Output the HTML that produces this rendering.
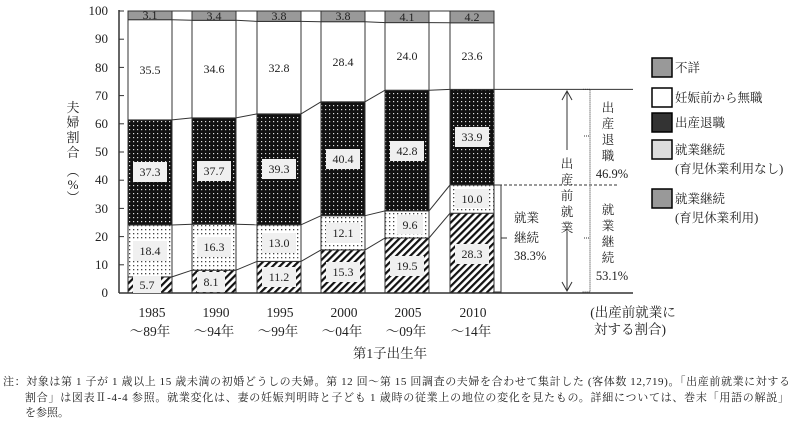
<!DOCTYPE html>
<html><head><meta charset="utf-8"><style>
body{margin:0;background:#fff}
svg{display:block;font-family:"Liberation Serif","Noto Serif CJK SC",serif}
.n{font-size:12px;text-anchor:middle;fill:#222}
.t{font-size:13px;fill:#222}
</style></head><body>
<svg width="799" height="426" viewBox="0 0 799 426">
<defs>
<pattern id="h" width="5" height="5" patternUnits="userSpaceOnUse" patternTransform="rotate(45)"><rect width="5" height="5" fill="#fff"/><rect width="2.2" height="5" fill="#111"/></pattern>
<pattern id="l" width="4" height="4" patternUnits="userSpaceOnUse"><rect width="4" height="4" fill="#fff"/><rect x="1" y="1" width="1.3" height="1.3" fill="#444"/></pattern>
<pattern id="d" width="4" height="4" patternUnits="userSpaceOnUse"><rect width="4" height="4" fill="#111"/><rect x="1" y="1" width="1.2" height="1.2" fill="#ddd"/></pattern>
</defs>
<g stroke="#333" stroke-width="1">
<g id="bars">
<rect x="128" y="276.9" width="44" height="16.1" fill="url(#h)"/><rect x="128" y="225" width="44" height="51.9" fill="url(#l)"/><rect x="128" y="119.9" width="44" height="105.1" fill="url(#d)"/><rect x="128" y="19.7" width="44" height="100.2" fill="#fff"/><rect x="128" y="11" width="44" height="8.7" fill="#999"/>
<rect x="192" y="270.2" width="44" height="22.8" fill="url(#h)"/><rect x="192" y="224.2" width="44" height="46" fill="url(#l)"/><rect x="192" y="117.9" width="44" height="106.3" fill="url(#d)"/><rect x="192" y="20.3" width="44" height="97.6" fill="#fff"/><rect x="192" y="11" width="44" height="9.3" fill="#999"/>
<rect x="257" y="261.4" width="44" height="31.6" fill="url(#h)"/><rect x="257" y="224.8" width="44" height="36.6" fill="url(#l)"/><rect x="257" y="113.9" width="44" height="110.9" fill="url(#d)"/><rect x="257" y="21.4" width="44" height="92.5" fill="#fff"/><rect x="257" y="11" width="44" height="10.4" fill="#999"/>
<rect x="321" y="249.9" width="44" height="43.1" fill="url(#h)"/><rect x="321" y="215.7" width="44" height="34.2" fill="url(#l)"/><rect x="321" y="101.8" width="44" height="113.9" fill="url(#d)"/><rect x="321" y="21.7" width="44" height="80.1" fill="#fff"/><rect x="321" y="11" width="44" height="10.7" fill="#999"/>
<rect x="385" y="238" width="44" height="55" fill="url(#h)"/><rect x="385" y="210.9" width="44" height="27.1" fill="url(#l)"/><rect x="385" y="90.2" width="44" height="120.7" fill="url(#d)"/><rect x="385" y="22.6" width="44" height="67.6" fill="#fff"/><rect x="385" y="11" width="44" height="11.6" fill="#999"/>
<rect x="450" y="213.2" width="44" height="79.8" fill="url(#h)"/><rect x="450" y="185" width="44" height="28.2" fill="url(#l)"/><rect x="450" y="89.4" width="44" height="95.6" fill="url(#d)"/><rect x="450" y="22.8" width="44" height="66.6" fill="#fff"/><rect x="450" y="11" width="44" height="11.8" fill="#999"/>
</g>
<polyline fill="none" points="172,276.9 192,270.2"/><polyline fill="none" points="236,270.2 257,261.4"/><polyline fill="none" points="301,261.4 321,249.9"/><polyline fill="none" points="365,249.9 385,238"/><polyline fill="none" points="429,238 450,213.2"/>
<polyline fill="none" points="172,225 192,224.2"/><polyline fill="none" points="236,224.2 257,224.8"/><polyline fill="none" points="301,224.8 321,215.7"/><polyline fill="none" points="365,215.7 385,210.9"/><polyline fill="none" points="429,210.9 450,185"/>
<polyline fill="none" points="172,119.9 192,117.9"/><polyline fill="none" points="236,117.9 257,113.9"/><polyline fill="none" points="301,113.9 321,101.8"/><polyline fill="none" points="365,101.8 385,90.2"/><polyline fill="none" points="429,90.2 450,89.4"/>
<polyline fill="none" points="172,19.7 192,20.3"/><polyline fill="none" points="236,20.3 257,21.4"/><polyline fill="none" points="301,21.4 321,21.7"/><polyline fill="none" points="365,21.7 385,22.6"/><polyline fill="none" points="429,22.6 450,22.8"/>
<polyline fill="none" points="172,11 192,11"/><polyline fill="none" points="236,11 257,11"/><polyline fill="none" points="301,11 321,11"/><polyline fill="none" points="365,11 385,11"/><polyline fill="none" points="429,11 450,11"/>
<line x1="119" y1="10" x2="119" y2="293" stroke-width="1.5"/>
<line x1="119" y1="293" x2="633" y2="293" stroke-width="1.5"/>
<g><line x1="119" y1="11" x2="124" y2="11"/><line x1="119" y1="39.2" x2="124" y2="39.2"/><line x1="119" y1="67.4" x2="124" y2="67.4"/><line x1="119" y1="95.6" x2="124" y2="95.6"/><line x1="119" y1="123.8" x2="124" y2="123.8"/><line x1="119" y1="152" x2="124" y2="152"/><line x1="119" y1="180.2" x2="124" y2="180.2"/><line x1="119" y1="208.4" x2="124" y2="208.4"/><line x1="119" y1="236.6" x2="124" y2="236.6"/><line x1="119" y1="264.8" x2="124" y2="264.8"/></g>
<line x1="494" y1="89.4" x2="633" y2="89.4"/>
<line x1="494" y1="185" x2="617" y2="185" stroke-dasharray="3,2"/>
<polyline fill="none" points="494,185 501,185 501,292 494,292"/>
<line x1="501" y1="238" x2="507" y2="238"/>
<line x1="567" y1="92" x2="567" y2="150"/><line x1="567" y1="232" x2="567" y2="290"/>
<polyline fill="none" points="562,100 567,91 572,100"/><polyline fill="none" points="562,282 567,291 572,282"/>
<polyline fill="none" stroke-dasharray="1,1" points="583,89.4 590,89.4 590,292 582,292"/>
<line x1="584" y1="136" x2="590" y2="136" stroke-dasharray="1,1"/><line x1="584" y1="238" x2="590" y2="238" stroke-dasharray="1,1"/>
<rect x="652" y="58" width="20" height="19" fill="#999" stroke="#000" stroke-width="1.5"/>
<rect x="652" y="88" width="20" height="19" fill="#fff" stroke="#000" stroke-width="1.5"/>
<rect x="652" y="113" width="20" height="19" fill="#333" stroke="#000" stroke-width="1.5"/>
<rect x="652" y="140" width="20" height="19" fill="#ddd" stroke="#000" stroke-width="1.5"/>
<rect x="652" y="189" width="20" height="19" fill="#999" stroke="#000" stroke-width="1.5"/>
</g>
<g fill="#f0f0f0">
<rect x="133" y="162" width="34" height="20"/><rect x="197" y="161" width="34" height="20"/><rect x="262" y="159" width="34" height="20"/><rect x="326" y="149" width="34" height="20"/><rect x="390" y="141" width="34" height="20"/><rect x="455" y="127" width="34" height="20"/>
<rect x="133" y="241" width="34" height="20"/><rect x="197" y="237" width="34" height="20"/><rect x="262" y="233" width="34" height="20"/><rect x="326" y="223" width="34" height="20"/><rect x="397" y="215" width="26" height="19"/><rect x="455" y="189" width="34" height="19"/>
<rect x="133" y="276" width="28" height="17"/><rect x="197" y="272" width="28" height="20"/><rect x="262" y="267" width="34" height="20"/><rect x="326" y="262" width="34" height="20"/><rect x="390" y="256" width="34" height="20"/><rect x="455" y="244" width="34" height="20"/>
</g>
<g class="n">
<text x="150" y="19">3.1</text><text x="214" y="20">3.4</text><text x="279" y="20">3.8</text><text x="343" y="20">3.8</text><text x="407" y="21">4.1</text><text x="472" y="21">4.2</text>
<text x="150" y="74">35.5</text><text x="214" y="73">34.6</text><text x="279" y="72">32.8</text><text x="343" y="66">28.4</text><text x="407" y="60">24.0</text><text x="472" y="60">23.6</text>
<text x="150" y="176">37.3</text><text x="214" y="175">37.7</text><text x="279" y="173">39.3</text><text x="343" y="163">40.4</text><text x="407" y="155">42.8</text><text x="472" y="141">33.9</text>
<text x="150" y="255">18.4</text><text x="214" y="251">16.3</text><text x="279" y="247">13.0</text><text x="343" y="237">12.1</text><text x="410" y="229">9.6</text><text x="472" y="203">10.0</text>
<text x="147" y="289">5.7</text><text x="211" y="286">8.1</text><text x="279" y="281">11.2</text><text x="343" y="276">15.3</text><text x="407" y="270">19.5</text><text x="472" y="258">28.3</text>
</g>
<g class="t" text-anchor="end">
<text x="108" y="15">100</text><text x="108" y="43">90</text><text x="108" y="72">80</text><text x="108" y="100">70</text><text x="108" y="128">60</text><text x="108" y="156">50</text><text x="108" y="184">40</text><text x="108" y="213">30</text><text x="108" y="241">20</text><text x="108" y="269">10</text><text x="108" y="297">0</text>
</g>
<g class="t" text-anchor="middle">
<text x="73" y="112">夫</text><text x="73" y="127">婦</text><text x="73" y="142">割</text><text x="73" y="157">合</text>
<text x="73" y="176">︵</text><text x="73" y="189">%</text><text x="73" y="202">︶</text>
</g>
<g class="t" text-anchor="middle" style="font-size:13.5px">
<text x="152" y="317">1985</text><text x="216" y="317">1990</text><text x="280" y="317">1995</text><text x="344" y="317">2000</text><text x="408" y="317">2005</text><text x="473" y="317">2010</text>
<text x="150" y="336">～89年</text><text x="214" y="336">～94年</text><text x="278" y="336">～99年</text><text x="342" y="336">～04年</text><text x="406" y="336">～09年</text><text x="471" y="336">～14年</text>
<text x="390" y="358">第1子出生年</text>
<text x="633" y="317">(出産前就業に</text><text x="630" y="334">対する割合)</text>
</g>
<g class="t" style="font-size:12.5px">
<text x="514" y="222">就業</text><text x="514" y="242">継続</text><text x="514" y="260">38.3%</text>
<g text-anchor="middle"><text x="567" y="168">出</text><text x="567" y="184">産</text><text x="567" y="200">前</text><text x="567" y="216">就</text><text x="567" y="232">業</text>
<text x="608" y="112">出</text><text x="608" y="128">産</text><text x="608" y="144">退</text><text x="608" y="160">職</text><text x="612" y="178">46.9%</text>
<text x="608" y="214">就</text><text x="608" y="230">業</text><text x="608" y="246">継</text><text x="608" y="262">続</text><text x="612" y="280">53.1%</text></g>
<text x="675" y="72">不詳</text><text x="675" y="102">妊娠前から無職</text><text x="675" y="127">出産退職</text><text x="675" y="154">就業継続</text><text x="675" y="173">(育児休業利用なし)</text><text x="675" y="203">就業継続</text><text x="675" y="222">(育児休業利用)</text>
</g>
<g style="font-size:11px" fill="#222">
<text x="3" y="385" textLength="787" lengthAdjust="spacing">注：対象は第 1 子が 1 歳以上 15 歳未満の初婚どうしの夫婦。第 12 回～第 15 回調査の夫婦を合わせて集計した (客体数 12,719)。「出産前就業に対する</text>
<text x="25" y="401" textLength="764" lengthAdjust="spacing">割合」は図表Ⅱ-4-4 参照。就業変化は、妻の妊娠判明時と子ども 1 歳時の従業上の地位の変化を見たもの。詳細については、巻末「用語の解説」</text>
<text x="25" y="416">を参照。</text>
</g>
</svg>
</body></html>
